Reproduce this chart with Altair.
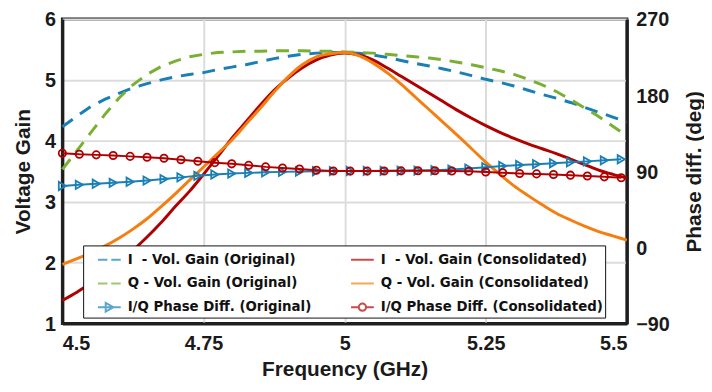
import altair as alt
import pandas as pd

# ---------------- data ----------------
FREQ_GAIN = [4.5, 4.525, 4.55, 4.575, 4.6, 4.625, 4.65, 4.675, 4.7, 4.725,
             4.75, 4.775, 4.8, 4.825, 4.85, 4.875, 4.9, 4.925, 4.95, 4.975,
             5.0, 5.025, 5.05, 5.075, 5.1, 5.125, 5.15, 5.175, 5.2, 5.225,
             5.25, 5.275, 5.3, 5.325, 5.35, 5.375, 5.4, 5.425, 5.45, 5.475, 5.5]

I_GAIN_ORIG = [4.23, 4.40, 4.56, 4.68, 4.78, 4.87, 4.94, 5.00, 5.05, 5.09,
               5.12, 5.17, 5.21, 5.25, 5.30, 5.35, 5.39, 5.42, 5.44, 5.45,
               5.45, 5.44, 5.41, 5.37, 5.32, 5.27, 5.23, 5.18, 5.13, 5.07,
               5.01, 4.96, 4.90, 4.83, 4.76, 4.70, 4.63, 4.55, 4.47, 4.39, 4.31]

Q_GAIN_ORIG = [3.53, 3.83, 4.13, 4.43, 4.70, 4.92, 5.09, 5.22, 5.31, 5.38,
               5.42, 5.45, 5.46, 5.47, 5.47, 5.48, 5.48, 5.48, 5.47, 5.47,
               5.46, 5.45, 5.44, 5.42, 5.40, 5.38, 5.36, 5.33, 5.29, 5.25,
               5.20, 5.15, 5.09, 5.01, 4.92, 4.81, 4.68, 4.54, 4.40, 4.24, 4.08]

I_GAIN_CONS = [1.38, 1.51, 1.66, 1.82, 2.00, 2.20, 2.42, 2.66, 2.92, 3.17,
               3.45, 3.74, 4.04, 4.31, 4.58, 4.83, 5.03, 5.20, 5.33, 5.41,
               5.44, 5.41, 5.33, 5.20, 5.06, 4.92, 4.78, 4.64, 4.50, 4.37,
               4.25, 4.14, 4.04, 3.95, 3.87, 3.79, 3.70, 3.61, 3.52, 3.45, 3.39]

Q_GAIN_CONS = [1.97, 2.06, 2.16, 2.27, 2.40, 2.55, 2.72, 2.92, 3.13, 3.35,
               3.57, 3.79, 4.01, 4.27, 4.53, 4.80, 5.05, 5.25, 5.38, 5.43,
               5.45, 5.40, 5.28, 5.12, 4.93, 4.72, 4.51, 4.30, 4.09, 3.87,
               3.65, 3.45, 3.26, 3.10, 2.95, 2.81, 2.70, 2.60, 2.51, 2.44, 2.37]

FREQ_PHASE = [4.50, 4.53, 4.56, 4.59, 4.62, 4.65, 4.68, 4.71, 4.74, 4.77,
              4.80, 4.83, 4.86, 4.89, 4.92, 4.95, 4.98, 5.01, 5.04, 5.07,
              5.10, 5.13, 5.16, 5.19, 5.22, 5.25, 5.28, 5.31, 5.34, 5.37,
              5.40, 5.43, 5.46, 5.49]

PHASE_ORIG = [72.6, 74.0, 75.2, 76.3, 77.6, 79.0, 80.8, 82.8, 84.6, 86.2,
              87.3, 88.1, 88.8, 89.3, 89.7, 90.0, 90.2, 90.3, 90.4, 90.5,
              90.6, 90.8, 91.2, 92.0, 93.2, 94.8, 96.2, 97.4, 98.4, 99.5,
              100.6, 101.7, 102.9, 104.2]

PHASE_CONS = [111.3, 110.1, 109.4, 108.6, 107.6, 106.6, 105.4, 103.6, 101.8, 100.2,
              98.8, 97.0, 95.2, 93.9, 92.7, 91.2, 90.4, 90.2, 90.2, 90.3,
              90.5, 90.6, 90.6, 90.4, 90.0, 89.2, 88.2, 87.4, 86.9, 86.2,
              85.4, 84.4, 83.4, 82.4]

X_TICKS = [4.5, 4.75, 5, 5.25, 5.5]
GAIN_TICKS = [1, 2, 3, 4, 5, 6]
PHASE_TICKS = [-90, 0, 90, 180, 270]

S_IO = "I\u00a0 - Vol. Gain (Original)"
S_QO = "Q - Vol. Gain (Original)"
S_PO = "I/Q Phase Diff. (Original)"
S_IC = "I\u00a0 - Vol. Gain (Consolidated)"
S_QC = "Q - Vol. Gain (Consolidated)"
S_PC = "I/Q Phase Diff. (Consolidated)"

BLUE = "#1a7fb4"
GREEN = "#79b033"
DRED = "#b00000"
ORANGE = "#f47f10"

# legend order (column-major, 2 columns)
LEG_SERIES = [S_IO, S_QO, S_PO, S_IC, S_QC, S_PC]
LEG_COLORS = [BLUE, GREEN, BLUE, DRED, ORANGE, DRED]
P_DASH = "M-1,0H-0.17M0.17,0H1"
P_SOLID = "M-1,0H1"
P_TRI = "M-1,0H1M-0.32,-0.38L0.36,0L-0.32,0.38Z"
P_CIRC = "M-1,0H-0.32M0.32,0H1M-0.32,0A0.32,0.32 0 1,0 0.32,0A0.32,0.32 0 1,0 -0.32,0Z"
LEG_SHAPES = [P_DASH, P_DASH, P_TRI, P_SOLID, P_SOLID, P_CIRC]

gain_df = pd.DataFrame({"freq": FREQ_GAIN, "io": I_GAIN_ORIG, "qo": Q_GAIN_ORIG,
                        "ic": I_GAIN_CONS, "qc": Q_GAIN_CONS})
phase_df = pd.DataFrame({"freq": FREQ_PHASE, "po": PHASE_ORIG, "pc": PHASE_CONS})
legend_df = pd.DataFrame({"series": LEG_SERIES, "freq": [None] * 6, "val": [None] * 6})

# ---------------- encodings ----------------
FONT = "Liberation Sans"
x_enc = alt.X("freq:Q",
              scale=alt.Scale(domain=[4.5, 5.5], nice=False, zero=False),
              axis=alt.Axis(values=X_TICKS, labelExpr="'' + datum.value", title="Frequency (GHz)",
                            labelPadding=10, titlePadding=6, grid=True))


def gy(field):
    return alt.Y(field + ":Q",
                 scale=alt.Scale(domain=[1, 6], nice=False, zero=False),
                 axis=alt.Axis(values=GAIN_TICKS, title="Voltage Gain", orient="left",
                               labelPadding=7, titlePadding=11, grid=True,
                               labelBaseline="alphabetic", labelOffset=7))


def py(field):
    return alt.Y(field + ":Q",
                 scale=alt.Scale(domain=[-90, 270], nice=False, zero=False),
                 axis=alt.Axis(values=PHASE_TICKS, title="Phase diff. (deg)", orient="right",
                               labelPadding=9, titlePadding=36, grid=False,
                               titleAngle=270, labelAlign="left",
                               labelBaseline="alphabetic", labelOffset=7))


base_g = alt.Chart(gain_df)
l_io = base_g.mark_line(color=BLUE, strokeWidth=3, strokeDash=[13, 9]).encode(x=x_enc, y=gy("io"))
l_qo = base_g.mark_line(color=GREEN, strokeWidth=3, strokeDash=[13, 9]).encode(x=x_enc, y=gy("qo"))
l_ic = base_g.mark_line(color=DRED, strokeWidth=3, interpolate="monotone").encode(x=x_enc, y=gy("ic"))
l_qc = base_g.mark_line(color=ORANGE, strokeWidth=3, interpolate="monotone").encode(x=x_enc, y=gy("qc"))

legend_layer = alt.Chart(legend_df).mark_point(filled=False, strokeWidth=2).encode(
    x=x_enc,
    y=gy("val"),
    color=alt.Color("series:N",
                    scale=alt.Scale(domain=LEG_SERIES, range=LEG_COLORS),
                    legend=alt.Legend(orient="none", legendX=21, legendY=229, columns=2,
                                      title=None, padding=2, rowPadding=5, columnPadding=27,
                                      symbolSize=529, symbolStrokeWidth=2, symbolOffset=12,
                                      labelOffset=6,
                                      labelFont="DejaVu Sans", labelFontSize=13.5,
                                      labelFontWeight="bold", labelColor="#111",
                                      labelLimit=0, strokeColor="#111", fillColor="white",
                                      symbolFillColor="transparent")),
    shape=alt.Shape("series:N", scale=alt.Scale(domain=LEG_SERIES, range=LEG_SHAPES)),
)

gain_layer = alt.layer(l_io, l_qo, l_ic, l_qc, legend_layer)

base_p = alt.Chart(phase_df)
pl_o = base_p.mark_line(color=BLUE, strokeWidth=2).encode(x=x_enc, y=py("po"))
pm_o = base_p.mark_point(color=BLUE, shape="triangle-right", size=70, filled=False,
                         strokeWidth=1.8, opacity=1).encode(x=x_enc, y=py("po"))
pl_c = base_p.mark_line(color=DRED, strokeWidth=2).encode(x=x_enc, y=py("pc"))
pm_c = base_p.mark_point(color=DRED, shape="circle", size=55, filled=False,
                         strokeWidth=1.8, opacity=1).encode(x=x_enc, y=py("pc"))
phase_layer = alt.layer(pl_o, pm_o, pl_c, pm_c)

chart = alt.layer(gain_layer, phase_layer).resolve_scale(y="independent").properties(
    width=571, height=308,
    autosize=alt.AutoSizeParams(type="none"),
    padding={"left": 55, "top": 9, "right": 78, "bottom": 57},
).configure_view(
    stroke="#1e1e1e", strokeWidth=3
).configure_axis(
    labelFont=FONT, labelFontSize=20, labelFontWeight="bold", labelColor="#1a1a1a",
    titleFont=FONT, titleFontSize=21, titleFontWeight="bold", titleColor="#1a1a1a",
    ticks=False, domainColor="#1e1e1e", domainWidth=3,
    gridColor="#dcdcdc", gridWidth=2,
)

chart.save("out.html", embed_options={"renderer": "svg", "actions": False})
